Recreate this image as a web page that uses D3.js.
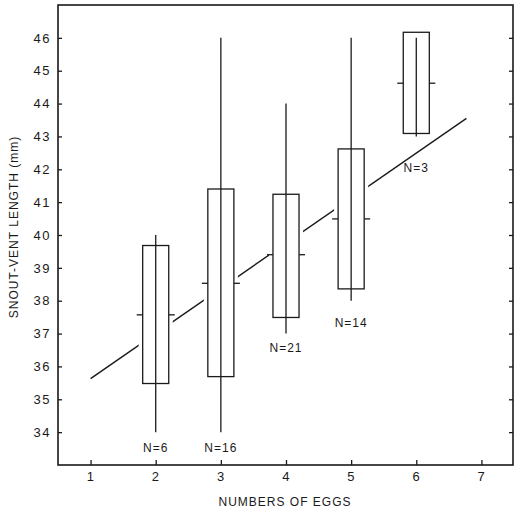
<!DOCTYPE html>
<html>
<head>
<meta charset="utf-8">
<script src="https://cdn.jsdelivr.net/npm/d3@7"></script>
<style>
  body { margin: 0; background: #fff; }
  svg { display: block; }
  text { font-family: "Liberation Sans", Arial, sans-serif; fill: #1a1a1a; }
</style>
</head>
<body>
<script>
// datos
var huevos = [2, 3, 4, 5, 6];
var minimos = [34, 34, 37, 38, 43];
var maximos = [40, 46, 44, 46, 46];
var cajaAbajo = [35.48, 35.69, 37.49, 38.36, 43.09];
var cajaArriba = [39.68, 41.4, 41.24, 42.62, 46.17];
var medias = [37.57, 38.53, 39.4, 40.49, 44.62];
var etiquetasN = ["N=6", "N=16", "N=21", "N=14", "N=3"];
var alturaEtiqueta = [33.52, 33.52, 36.57, 37.34, 42.04];
var recta = [[1, 35.63], [6.77, 43.55]];
var ticksX = [1, 2, 3, 4, 5, 6, 7];
var ticksY = [34, 35, 36, 37, 38, 39, 40, 41, 42, 43, 44, 45, 46];

var width = 514;
var height = 512;
var margen = { arriba: 5, abajo: 47, izquierda: 58, derecha: 0 };
var tinta = "#1a1a1a";

var datos = huevos.map(function(h, i) {
    return { x: h, min: minimos[i], max: maximos[i], q1: cajaAbajo[i], q3: cajaArriba[i],
             media: medias[i], n: etiquetasN[i], yEtiqueta: alturaEtiqueta[i] };
});

var escalaX = d3.scaleLinear()
    .domain([0.5, 7.5])
    .range([margen.izquierda, width - margen.derecha]);

var escalaY = d3.scaleLinear()
    .domain([33, 47])
    .range([height - margen.abajo, margen.arriba]);

var svg = d3.select("body").append("svg")
    .attr("width", width)
    .attr("height", height);

// ejes
var ejeIzq = svg.append("g")
    .attr("transform", "translate(" + margen.izquierda + ",0)")
    .call(d3.axisLeft(escalaY).tickValues(ticksY).tickFormat(d3.format("d"))
        .tickSizeInner(-4).tickSizeOuter(0).tickPadding(7));
var ejeDer = svg.append("g")
    .attr("transform", "translate(" + (width - 1) + ",0)")
    .call(d3.axisRight(escalaY).tickValues(ticksY).tickSizeInner(-4).tickSizeOuter(0).tickFormat(""));
var ejeAbajo = svg.append("g")
    .attr("transform", "translate(0," + (height - margen.abajo) + ")")
    .call(d3.axisBottom(escalaX).tickValues(ticksX).tickFormat(d3.format("d"))
        .tickSizeInner(-5).tickSizeOuter(0).tickPadding(7));

[ejeIzq, ejeDer, ejeAbajo].forEach(function(g) {
    g.select(".domain").remove();
    g.selectAll("line").attr("stroke", tinta).attr("stroke-width", 1.3);
    g.selectAll("text")
        .style("font-family", "'Liberation Sans', Arial, sans-serif")
        .style("font-size", "13px")
        .style("letter-spacing", "1.5px")
        .attr("fill", tinta);
});

// marco
svg.append("rect")
    .attr("x", margen.izquierda)
    .attr("y", margen.arriba)
    .attr("width", width - 1 - margen.izquierda)
    .attr("height", height - margen.abajo - margen.arriba)
    .attr("fill", "none")
    .attr("stroke", tinta)
    .attr("stroke-width", 1.6);

// recta de regresion
svg.append("line")
    .attr("x1", escalaX(recta[0][0]))
    .attr("y1", escalaY(recta[0][1]))
    .attr("x2", escalaX(recta[1][0]))
    .attr("y2", escalaY(recta[1][1]))
    .attr("stroke", tinta)
    .attr("stroke-width", 1.4);

var medioAncho = 0.2;

// huecos de la recta alrededor de las cajas
svg.selectAll(".hueco")
    .data(datos)
    .join("rect")
    .attr("class", "hueco")
    .attr("x", d => escalaX(d.x - medioAncho) - 4)
    .attr("width", d => escalaX(d.x + medioAncho) - escalaX(d.x - medioAncho) + 8)
    .attr("y", d => escalaY(d.q3))
    .attr("height", d => escalaY(d.q1) - escalaY(d.q3))
    .attr("fill", "#fff");

// bigotes
svg.selectAll(".bigote")
    .data(datos)
    .join("line")
    .attr("class", "bigote")
    .attr("x1", d => escalaX(d.x))
    .attr("x2", d => escalaX(d.x))
    .attr("y1", d => escalaY(d.min))
    .attr("y2", d => escalaY(d.max))
    .attr("stroke", tinta)
    .attr("stroke-width", 1.3);

// cajas
svg.selectAll(".caja")
    .data(datos)
    .join("rect")
    .attr("class", "caja")
    .attr("x", d => escalaX(d.x - medioAncho))
    .attr("width", d => escalaX(d.x + medioAncho) - escalaX(d.x - medioAncho))
    .attr("y", d => escalaY(d.q3))
    .attr("height", d => escalaY(d.q1) - escalaY(d.q3))
    .attr("fill", "none")
    .attr("stroke", tinta)
    .attr("stroke-width", 1.3);

// marcas de la media a ambos lados
[-1, 1].forEach(function(lado) {
    svg.selectAll(".media" + (lado > 0 ? "D" : "I"))
        .data(datos)
        .join("line")
        .attr("class", "media" + (lado > 0 ? "D" : "I"))
        .attr("x1", d => escalaX(d.x + lado * medioAncho))
        .attr("x2", d => escalaX(d.x + lado * medioAncho) + lado * 6)
        .attr("y1", d => escalaY(d.media))
        .attr("y2", d => escalaY(d.media))
        .attr("stroke", tinta)
        .attr("stroke-width", 1.3);
});

// etiquetas N
svg.selectAll(".etiquetaN")
    .data(datos)
    .join("text")
    .attr("class", "etiquetaN")
    .attr("x", d => escalaX(d.x))
    .attr("y", d => escalaY(d.yEtiqueta))
    .attr("dy", "0.35em")
    .attr("text-anchor", "middle")
    .style("font-size", "12px")
    .style("letter-spacing", "1px")
    .text(d => d.n);

// titulos de ejes
svg.append("text")
    .attr("x", escalaX(4) - 1)
    .attr("y", 506)
    .attr("text-anchor", "middle")
    .style("font-size", "12px")
    .style("letter-spacing", "1px")
    .text("NUMBERS OF EGGS");

svg.append("text")
    .attr("transform", "translate(18," + 227 + ") rotate(-90)")
    .attr("text-anchor", "middle")
    .style("font-size", "12px")
    .style("letter-spacing", "1px")
    .text("SNOUT-VENT LENGTH (mm)");
</script>
</body>
</html>
